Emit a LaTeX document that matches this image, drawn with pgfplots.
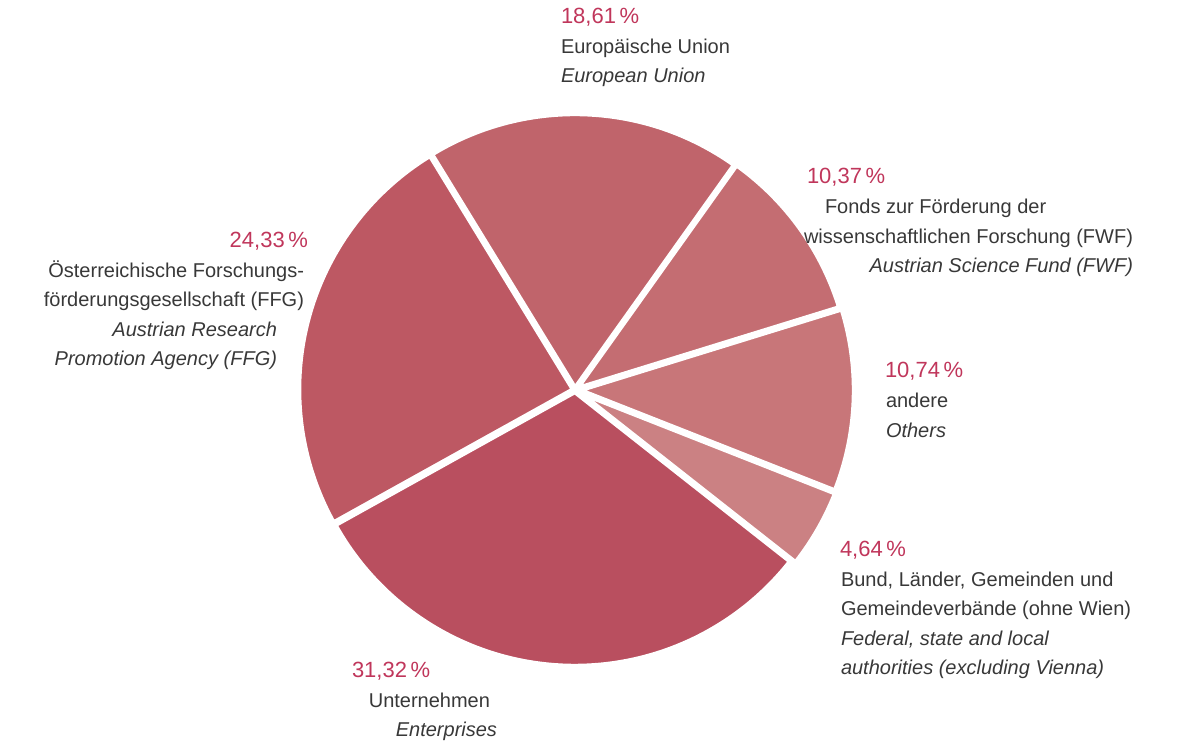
\documentclass[border=0pt]{standalone}
\usepackage{pgfplots}
\pgfplotsset{compat=1.18}
\usepackage{fontspec}
\setmainfont{Liberation Sans}
\definecolor{cEU}{HTML}{C0646B}
\definecolor{cFWF}{HTML}{C46D72}
\definecolor{cOth}{HTML}{C87679}
\definecolor{cBund}{HTML}{CB8183}
\definecolor{cEnt}{HTML}{B94F5F}
\definecolor{cFFG}{HTML}{BD5863}
\definecolor{pct}{HTML}{C0365B}
\definecolor{txt}{HTML}{383838}
\tikzset{lbl/.style={inner sep=0pt, outer sep=0pt, font=\fontsize{10}{12}\selectfont, text=txt},
         pc/.style={lbl, text=pct, font=\fontsize{11}{13}\selectfont}}
% shares in percent
\def\vEU{18.61}
\def\vFWF{10.37}
\def\vOth{10.74}
\def\vBund{4.64}
\def\vEnt{31.32}
\def\vFFG{24.33}
\def\startang{121.5}
% slice: start angle, end angle, explode distance
\pgfmathsetmacro\aA{\startang}
\pgfmathsetmacro\aB{\aA-3.6*\vEU}
\pgfmathsetmacro\aC{\aB-3.6*\vFWF}
\pgfmathsetmacro\aD{\aC-3.6*\vOth}
\pgfmathsetmacro\aE{\aD-3.6*\vBund}
\pgfmathsetmacro\aF{\aE-3.6*\vEnt}
\pgfmathsetmacro\aG{\aF-3.6*\vFFG}
\newcommand\slicecx[3]{575+#3*cos((#1+#2)/2)}
\newcommand\slicecy[3]{353+#3*sin((#1+#2)/2)}
\begin{document}
\begin{tikzpicture}
\begin{axis}[
  at={(0,0)}, anchor=south west,
  scale only axis, width=600pt, height=371.5pt,
  xmin=0, xmax=1200, ymin=0, ymax=743,
  hide axis, clip=false,
]
\pgfplotsset{slice/.style={draw=white, line width=2.2pt, line join=round, samples=80, smooth}}
\addplot[slice, fill=cEU, domain=\aB:\aA]
  ({\slicecx{\aA}{\aB}{2}+274*cos(x)},{\slicecy{\aA}{\aB}{2}+274*sin(x)}) -- (axis cs:{\slicecx{\aA}{\aB}{2}},{\slicecy{\aA}{\aB}{2}}) -- cycle;
\addplot[slice, fill=cFWF, domain=\aC:\aB]
  ({\slicecx{\aB}{\aC}{3}+274*cos(x)},{\slicecy{\aB}{\aC}{3}+274*sin(x)}) -- (axis cs:{\slicecx{\aB}{\aC}{3}},{\slicecy{\aB}{\aC}{3}}) -- cycle;
\addplot[slice, fill=cOth, domain=\aD:\aC]
  ({\slicecx{\aC}{\aD}{5}+274*cos(x)},{\slicecy{\aC}{\aD}{5}+274*sin(x)}) -- (axis cs:{\slicecx{\aC}{\aD}{5}},{\slicecy{\aC}{\aD}{5}}) -- cycle;
\addplot[slice, fill=cBund, domain=\aE:\aD]
  ({\slicecx{\aD}{\aE}{6}+274*cos(x)},{\slicecy{\aD}{\aE}{6}+274*sin(x)}) -- (axis cs:{\slicecx{\aD}{\aE}{6}},{\slicecy{\aD}{\aE}{6}}) -- cycle;
\addplot[slice, fill=cEnt, domain=\aF:\aE]
  ({\slicecx{\aE}{\aF}{2}+274*cos(x)},{\slicecy{\aE}{\aF}{2}+274*sin(x)}) -- (axis cs:{\slicecx{\aE}{\aF}{2}},{\slicecy{\aE}{\aF}{2}}) -- cycle;
\addplot[slice, fill=cFFG, domain=\aG:\aF]
  ({\slicecx{\aF}{\aG}{2}+274*cos(x)},{\slicecy{\aF}{\aG}{2}+274*sin(x)}) -- (axis cs:{\slicecx{\aF}{\aG}{2}},{\slicecy{\aF}{\aG}{2}}) -- cycle;

% EU
\node[pc, anchor=mid west] at (axis cs:561,725) {18,61\,\%};
\node[lbl, anchor=mid west] at (axis cs:561,695) {Europäische Union};
\node[lbl, anchor=mid west] at (axis cs:561,666) {\itshape European Union};
% FWF
\node[pc, anchor=mid west] at (axis cs:807,565) {10,37\,\%};
\node[lbl, anchor=mid west] at (axis cs:825,535) {Fonds zur Förderung der};
\node[lbl, anchor=mid east] at (axis cs:1133,505) {wissenschaftlichen Forschung (FWF)};
\node[lbl, anchor=mid east] at (axis cs:1133,476) {\itshape Austrian Science Fund (FWF)};
% FFG
\node[pc, anchor=mid east] at (axis cs:308,501) {24,33\,\%};
\node[lbl, anchor=mid east] at (axis cs:304,471) {Österreichische Forschungs-};
\node[lbl, anchor=mid east] at (axis cs:304,442) {förderungsgesellschaft (FFG)};
\node[lbl, anchor=mid east] at (axis cs:277,412) {\itshape Austrian Research};
\node[lbl, anchor=mid east] at (axis cs:277,383) {\itshape Promotion Agency (FFG)};
% Others
\node[pc, anchor=mid west] at (axis cs:885,371) {10,74\,\%};
\node[lbl, anchor=mid west] at (axis cs:886,341) {andere};
\node[lbl, anchor=mid west] at (axis cs:886,311) {\itshape Others};
% Bund
\node[pc, anchor=mid west] at (axis cs:840,192) {4,64\,\%};
\node[lbl, anchor=mid west] at (axis cs:841,162) {Bund, Länder, Gemeinden und};
\node[lbl, anchor=mid west] at (axis cs:841,133) {Gemeindeverbände (ohne Wien)};
\node[lbl, anchor=mid west] at (axis cs:841,103) {\itshape Federal, state and local};
\node[lbl, anchor=mid west] at (axis cs:841,74) {\itshape authorities (excluding Vienna)};
% Enterprises
\node[pc, anchor=mid west] at (axis cs:352,71) {31,32\,\%};
\node[lbl, anchor=mid east] at (axis cs:490,41) {Unternehmen};
\node[lbl, anchor=mid east] at (axis cs:497,12) {\itshape Enterprises};
\end{axis}
\pgfresetboundingbox
\path[use as bounding box] (0,0) rectangle (600pt,371.5pt);
\end{tikzpicture}
\end{document}
